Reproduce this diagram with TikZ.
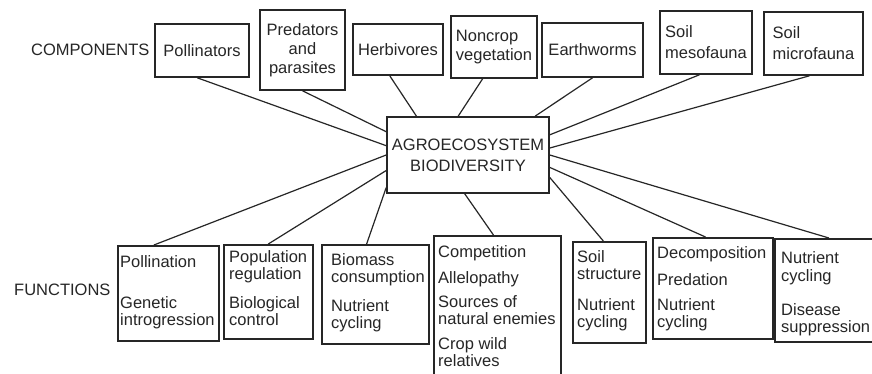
\documentclass[tikz,border=0pt]{standalone}
\usepackage{fontspec}
\setmainfont{Liberation Sans}
\usetikzlibrary{calc}
\begin{document}
\begin{tikzpicture}[x=1pt,y=-1pt,
  txt/.style={font=\fontsize{16.5}{17}\selectfont, text=black!85},
  frame/.style={draw=black!85, line width=1.6pt, inner sep=1pt},
  comp/.style={frame, txt, align=left},
  body/.style={txt, align=left, inner sep=0pt, anchor=north west},
  link/.style={draw=black!85, line width=1.2pt},
  label/.style={txt, inner sep=0pt, anchor=base west}
]
\useasboundingbox[fill=white] (0,0) rectangle (872,374);

% row labels
\node[label] (lcomp) at (31,56) {COMPONENTS};
\node[label] (lfunc) at (14,295) {FUNCTIONS};

% central node
\node[frame, txt, align=center, minimum width=162pt, minimum height=76pt]
  (agro) at (468,155) {AGROECOSYSTEM\\[4pt]BIODIVERSITY};

% components
\node[comp, minimum width=94pt, minimum height=53pt] (pollinators) at (202,50.5) {Pollinators};
\node[frame, txt, align=center, minimum width=85pt, minimum height=80pt] (predators) at (302.5,50) {Predators\\[2pt]and\\[2pt]parasites};
\node[comp, minimum width=90pt, minimum height=51pt] (herbivores) at (398,49.5) {Herbivores};
\node[comp, minimum width=86pt, minimum height=62pt] (noncrop) at (494,47) {Noncrop\\[2pt]vegetation};
\node[comp, minimum width=101pt, minimum height=54pt] (earthworms) at (592.5,50) {Earthworms};
\node[comp, minimum width=92pt, minimum height=63pt] (mesofauna) at (706,42.5) {Soil\\[4pt]mesofauna};
\node[comp, minimum width=99pt, minimum height=63pt] (microfauna) at (813.5,43.5) {Soil\\[4pt]microfauna};

% function boxes
\node[frame, anchor=north west, minimum width=101pt, minimum height=95pt] (pollination) at (117,245) {};
\node[frame, anchor=north west, minimum width=89pt, minimum height=94pt] (population) at (223,244) {};
\node[frame, anchor=north west, minimum width=107pt, minimum height=99pt] (biomass) at (321,244) {};
\node[frame, anchor=north west, minimum width=127pt, minimum height=145pt] (competition) at (433,235) {};
\node[frame, anchor=north west, minimum width=73pt, minimum height=101pt] (soilstruct) at (572,241) {};
\node[frame, anchor=north west, minimum width=120pt, minimum height=101pt] (decomp) at (652,237) {};
\node[frame, anchor=north west, minimum width=104pt, minimum height=103pt] (nutrient) at (774,238) {};

% function texts (first baseline 12.5pt below the node top)
\node[body] (pollination-t) at (120,254.5) {\rule{0pt}{12.5pt}Pollination\\[24pt]Genetic\\introgression};
\node[body] (population-t) at (229,249.5) {\rule{0pt}{12.5pt}Population\\regulation\\[12pt]Biological\\control};
\node[body] (biomass-t) at (331,252.5) {\rule{0pt}{12.5pt}Biomass\\consumption\\[12pt]Nutrient\\cycling};
\node[body] (competition-t) at (438,244.5) {\rule{0pt}{12.5pt}Competition\\[9pt]Allelopathy\\[7pt]Sources of\\natural enemies\\[8pt]Crop wild\\relatives};
\node[body] (soilstruct-t) at (577,249.5) {\rule{0pt}{12.5pt}Soil\\structure\\[14pt]Nutrient\\cycling};
\node[body] (decomp-t) at (657,245.5) {\rule{0pt}{12.5pt}Decomposition\\[10pt]Predation\\[8pt]Nutrient\\cycling};
\node[body] (nutrient-t) at (781,250.5) {\rule{0pt}{12.5pt}Nutrient\\[1pt]cycling\\[17pt]Disease\\suppression};

% connectors, components to centre
\draw[link] ($(pollinators.south west)!0.45!(pollinators.south east)$) -- ($(agro.north west)!0.38!(agro.south west)$);
\draw[link] (predators.south) -- ($(agro.north west)!0.20!(agro.south west)$);
\draw[link] ($(herbivores.south west)!0.41!(herbivores.south east)$) -- ($(agro.north west)!0.185!(agro.north east)$);
\draw[link] ($(noncrop.south west)!0.37!(noncrop.south east)$) -- ($(agro.north west)!0.44!(agro.north east)$);
\draw[link] (earthworms.south) -- ($(agro.north west)!0.91!(agro.north east)$);
\draw[link] ($(mesofauna.south west)!0.43!(mesofauna.south east)$) -- ($(agro.north east)!0.24!(agro.south east)$);
\draw[link] ($(microfauna.south west)!0.46!(microfauna.south east)$) -- ($(agro.north east)!0.41!(agro.south east)$);

% connectors, centre to functions
\draw[link] ($(pollination.north west)!0.36!(pollination.north east)$) -- ($(agro.north west)!0.50!(agro.south west)$);
\draw[link] (population.north) -- ($(agro.north west)!0.70!(agro.south west)$);
\draw[link] ($(biomass.north west)!0.42!(biomass.north east)$) -- ($(agro.north west)!0.92!(agro.south west)$);
\draw[link] ($(competition.north west)!0.47!(competition.north east)$) -- ($(agro.south west)!0.48!(agro.south east)$);
\draw[link] ($(soilstruct.north west)!0.42!(soilstruct.north east)$) -- ($(agro.north east)!0.79!(agro.south east)$);
\draw[link] ($(decomp.north west)!0.44!(decomp.north east)$) -- ($(agro.north east)!0.66!(agro.south east)$);
\draw[link] ($(nutrient.north west)!0.52!(nutrient.north east)$) -- ($(agro.north east)!0.50!(agro.south east)$);
\end{tikzpicture}
\end{document}
